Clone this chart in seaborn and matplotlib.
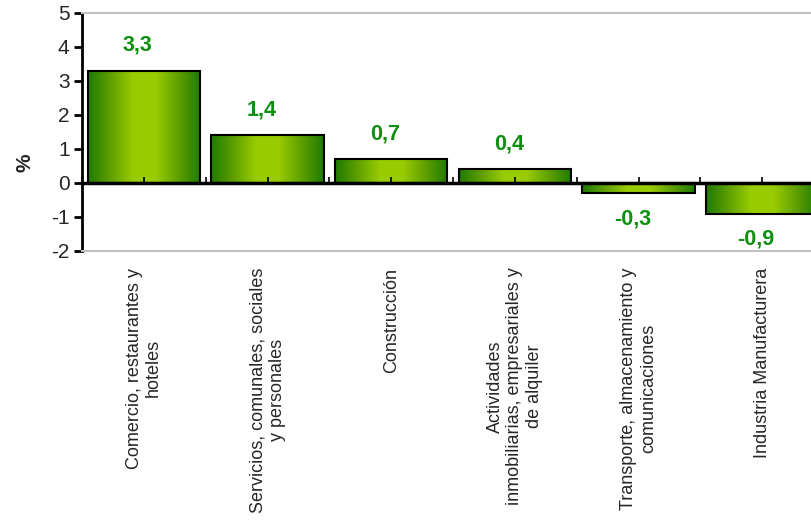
import numpy as np
import pandas as pd
import matplotlib
matplotlib.use("Agg")
import matplotlib.pyplot as plt
from matplotlib.colors import LinearSegmentedColormap
import seaborn as sns

sectores = [
    "Comercio, restaurantes y\nhoteles",
    "Servicios, comunales, sociales\ny personales",
    "Construcción",
    "Actividades\ninmobiliarias, empresariales y\nde alquiler",
    "Transporte, almacenamiento y\ncomunicaciones",
    "Industria Manufacturera",
]
variacion = [3.3, 1.4, 0.7, 0.4, -0.3, -0.9]
etiquetas = ["3,3", "1,4", "0,7", "0,4", "-0,3", "-0,9"]

df = pd.DataFrame({"sector": sectores, "var": variacion})

sns.set_style("white")
plt.rcParams["font.family"] = ["Liberation Sans", "DejaVu Sans"]
plt.rcParams["axes.unicode_minus"] = False

fig = plt.figure(figsize=(8.11, 5.21), dpi=100)
# plot area runs past the right edge of the picture, as in the original
ax = fig.add_axes([82 / 811, 1 - 251 / 521, 742 / 811, 238 / 521])

sns.barplot(data=df, x="sector", y="var", ax=ax, color="#99cc00",
            width=0.91, edgecolor="black", linewidth=1.5, saturation=1)

verde = LinearSegmentedColormap.from_list(
    "verde", ["#1f7a00", "#5fa000", "#99cc00", "#9acc00", "#5fa000", "#1f7a00"])
grad = np.linspace(0, 1, 256).reshape(1, -1)
for p in ax.patches:
    x0, y0 = p.get_x(), p.get_y()
    w, h = p.get_width(), p.get_height()
    im = ax.imshow(grad, cmap=verde, aspect="auto", zorder=p.get_zorder() - 0.1,
                   extent=[x0, x0 + w, min(y0, y0 + h), max(y0, y0 + h)])
    im.set_clip_path(p)
    p.set_facecolor("none")
    p.set_zorder(3)

for i, (v, t) in enumerate(zip(variacion, etiquetas)):
    off = 0.75 if v > 0 else -0.75
    ax.text(i - 0.05, v + off, t, ha="center", va="center", color="#0f8f0f",
            fontsize=15.5, fontweight="bold")

ax.set_xlim(-0.5, 5.5)
ax.set_ylim(-2, 5)
ax.set_yticks(range(-2, 6))
ax.tick_params(axis="y", direction="out", length=6, width=2, color="black",
               labelsize=15, pad=3, left=True)
ax.set_xticks(range(len(sectores)))
ax.set_xticklabels(sectores, rotation=90, va="top", ha="center",
                   multialignment="center", fontsize=13)
ax.tick_params(axis="x", length=0, pad=12)
ax.set_xlabel("")
ax.set_ylabel("%", fontsize=15, fontweight="bold")
ax.yaxis.set_label_coords(-0.064, 0.37)

for s in ["top", "bottom"]:
    ax.spines[s].set_color("#c0c0c0")
    ax.spines[s].set_linewidth(1.5)
ax.spines["right"].set_visible(False)
ax.spines["left"].set_color("black")
ax.spines["left"].set_linewidth(2)

# zero line with small upward ticks
eje0 = ax.secondary_xaxis(2 / 7)
eje0.set_xticks(np.arange(-0.5, 5.6, 0.5))
eje0.tick_params(direction="in", length=4, width=1.2, labelbottom=False,
                 labeltop=False, color="black")
eje0.spines["bottom"].set_linewidth(2.5)
eje0.spines["bottom"].set_color("black")
eje0.set_zorder(4)

fig.savefig("out.png", dpi=100)
